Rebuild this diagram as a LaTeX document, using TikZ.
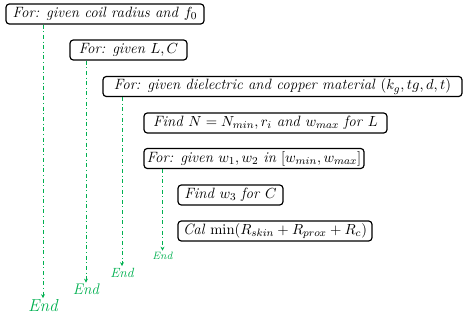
\documentclass[tikz,border=0pt]{standalone}
\usetikzlibrary{arrows.meta}
\definecolor{lg}{RGB}{0,176,80}
\begin{document}
\begin{tikzpicture}[x=0.75pt,y=-0.75pt,
  box/.style={draw, rounded corners=2.5pt, line width=0.9pt, minimum height=15pt, inner sep=0pt, font=\fontsize{11.2}{13}\selectfont},
  conn/.style={draw=lg, line width=0.65pt, dash pattern=on 3pt off 2pt on 0.7pt off 2pt, -{Stealth[length=3pt,width=3pt]}, shorten >=1pt},
  endl/.style={text=lg, font=\itshape, inner sep=0pt, anchor=north}]
\useasboundingbox (0,0) rectangle (468,325);
\node[box, minimum width=148.5pt] (b1) at (105,14) {\textit{For: given coil radius and} $f_0$};
\node[box, minimum width=87.75pt] (b2) at (128.5,50) {\textit{For: given} $L, C$};
\node[box, minimum width=269.25pt] (b3) at (282.5,86.5) {\textit{For: given dielectric and copper material} $(k_g, tg, d, t)$};
\node[box, minimum width=182.25pt] (b4) at (265.5,123) {\textit{Find} $N = N_{min}, r_i$ \textit{and} $w_{max}$ \textit{for} $L$};
\node[box, minimum width=165pt] (b5) at (254,158.5) {\textit{For: given} $w_1, w_2$ \textit{in} $[w_{min}, w_{max}]$};
\node[box, minimum width=78.75pt] (b6) at (230.5,195) {\textit{Find} $w_3$ \textit{for} $C$};
\node[box, minimum width=145.5pt] (b7) at (275,231) {\textit{Cal} $\min(R_{skin} + R_{prox} + R_c)$};
\node[endl, font=\fontsize{13}{15}\selectfont\itshape] (e1) at (43,299.5) {End};
\node[endl, font=\fontsize{11.5}{13}\selectfont\itshape] (e2) at (86,284) {End};
\node[endl, font=\fontsize{10}{12}\selectfont\itshape] (e3) at (122,267.5) {End};
\node[endl, font=\fontsize{8}{10}\selectfont\itshape] (e4) at (162.5,252) {End};
\draw[conn] (b1.south -| e1.north) -- (e1.north);
\draw[conn] (b2.south -| e2.north) -- (e2.north);
\draw[conn] (b3.south -| e3.north) -- (e3.north);
\draw[conn] (b5.south -| e4.north) -- (e4.north);
\end{tikzpicture}
\end{document}
